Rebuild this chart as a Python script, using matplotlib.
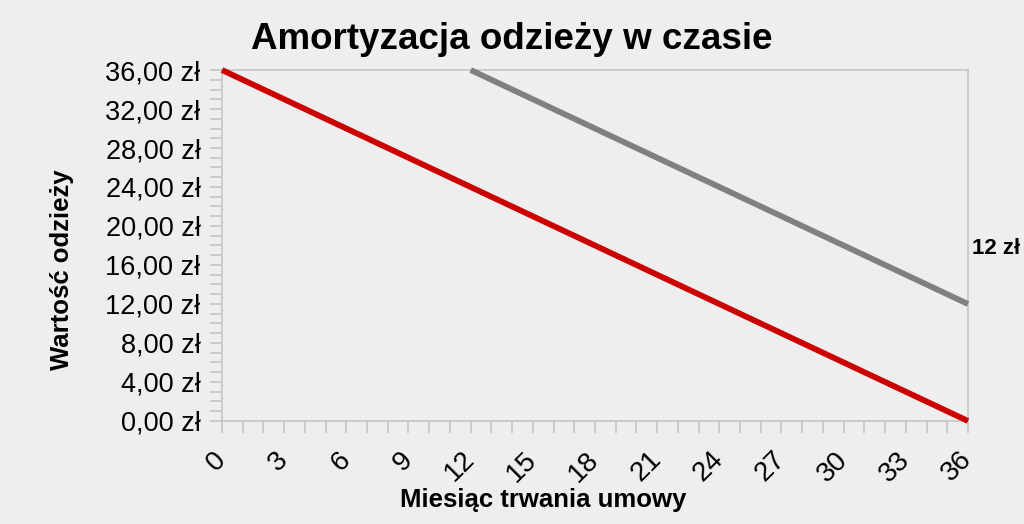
import matplotlib
matplotlib.use("Agg")
import matplotlib.pyplot as plt
from matplotlib.ticker import MultipleLocator, FuncFormatter

months_red = [0, 36]
value_red = [36, 0]
months_gray = [12, 36]
value_gray = [36, 12]
end_label = "12 zł"
title = "Amortyzacja odzieży w czasie"
xlabel = "Miesiąc trwania umowy"
ylabel = "Wartość odzieży"

plt.rcParams['font.family'] = ['Liberation Sans', 'DejaVu Sans']
bg = '#eeeeee'
fig = plt.figure(figsize=(10.24, 5.24), dpi=100, facecolor=bg)
ax = fig.add_axes([0.2168, 0.1966, 0.7285, 0.6698])
ax.set_facecolor(bg)

ax.plot(months_red, value_red, color='#cc0000', lw=4.2, solid_capstyle='butt', clip_on=False, zorder=3)
ax.plot(months_gray, value_gray, color='#808080', lw=4.2, solid_capstyle='butt', clip_on=False, zorder=3)

ax.set_xlim(0, 36)
ax.set_ylim(0, 36)
ax.xaxis.set_major_locator(MultipleLocator(3))
ax.xaxis.set_minor_locator(MultipleLocator(1))
ax.yaxis.set_major_locator(MultipleLocator(4))
ax.yaxis.set_minor_locator(MultipleLocator(1))
ax.yaxis.set_major_formatter(FuncFormatter(lambda v, p: f"{v:.2f}".replace('.', ',') + " zł"))

for s in ax.spines.values():
    s.set_color('#c4c4c4')
    s.set_linewidth(1.2)
ax.tick_params(which='both', direction='out', length=8.5, width=1.2, color='#c4c4c4')
ax.tick_params(axis='y', which='major', labelsize=19.5, labelcolor='black', pad=7)
ax.tick_params(axis='x', which='major', labelsize=20, labelcolor='black', pad=16.5)
for lab in ax.get_xticklabels():
    lab.set_rotation(45)
    lab.set_rotation_mode('anchor')
    lab.set_ha('right')
    lab.set_va('center')

fig.text(0.5, 0.924, title, fontsize=26.5, fontweight='bold', ha='center', va='center')
ax.set_xlabel(xlabel, fontsize=18.5, fontweight='bold')
ax.xaxis.set_label_coords(0.43, -0.225)
ax.xaxis.label.set_va('center')
ax.set_ylabel(ylabel, fontsize=18.5, fontweight='bold')
ax.yaxis.set_label_coords(-0.214, 0.43)
ax.yaxis.label.set_va('center')

ax.annotate(end_label, xy=(months_gray[-1], value_gray[-1]), xytext=(3, 40),
            textcoords='offset points', fontsize=16, fontweight='bold',
            ha='left', va='center', annotation_clip=False)

fig.savefig('out.png', dpi=100, facecolor=bg)
